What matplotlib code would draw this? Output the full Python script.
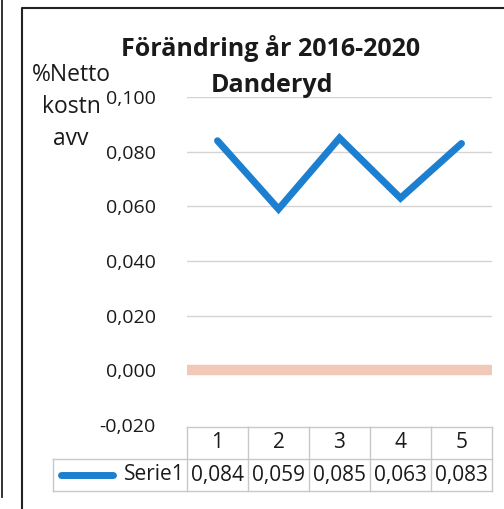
import matplotlib
matplotlib.use("Agg")
import matplotlib.pyplot as plt
from matplotlib.lines import Line2D
from matplotlib.ticker import FuncFormatter

categories = [1, 2, 3, 4, 5]
values = [0.084, 0.059, 0.085, 0.063, 0.083]
value_labels = ["0,084", "0,059", "0,085", "0,063", "0,083"]
series_name = "Serie1"
title1 = "Förändring år 2016-2020"
title2 = "Danderyd"
ylabel = "%Netto\nkostn\navv"

FONT = "Open Sans"
plt.rcParams["font.family"] = [FONT, "DejaVu Sans"]

W, H = 504, 509
fig = plt.figure(figsize=(W / 100, H / 100), dpi=100)

def px(x, y):
    return x / W, 1 - y / H

# axes area in pixels
L, R, T, B = 187, 492, 97, 425
ax = fig.add_axes([L / W, 1 - B / H, (R - L) / W, (B - T) / H])
ax.set_xlim(0.5, 5.5)
ax.set_ylim(-0.02, 0.1)
for s in ax.spines.values():
    s.set_visible(False)
ax.set_yticks([-0.02, 0, 0.02, 0.04, 0.06, 0.08, 0.1])
ax.yaxis.set_major_formatter(FuncFormatter(lambda v, p: f"{v:.3f}".replace(".", ",")))
ax.tick_params(axis="y", length=0, pad=22.5, labelsize=14, labelcolor="#1a1a1a")
ax.set_xticks([])
for yv in [0.02, 0.04, 0.06, 0.08, 0.1]:
    ax.axhline(yv, color="#d4d4d4", lw=1.0, zorder=1)
ax.axhline(0, color="#F2C8B8", lw=7.5, zorder=2)
ax.plot(categories, values, color="#1C7FCF", lw=5, solid_capstyle="round",
        solid_joinstyle="miter", zorder=3)

# data table below the axes
tr = ax.get_xaxis_transform()
def ya(ypx):
    return (B - ypx) / (B - T)
y0, y1, y2 = ya(427), ya(459), ya(491)
grid_c = "#c8c8c8"
legend_left = -1.7
FS_T = 15
for i, c in enumerate(categories):
    xl, xr = c - 0.5, c + 0.5
    ax.add_line(Line2D([xl, xr], [y0, y0], transform=tr, color=grid_c, lw=1, clip_on=False))
    ax.text(c, (y0 + y1) / 2, str(c), transform=tr, ha="center", va="center",
            fontsize=FS_T, color="#1a1a1a", clip_on=False)
    ax.text(c, (y1 + y2) / 2, value_labels[i], transform=tr, ha="center", va="center",
            fontsize=FS_T, color="#1a1a1a", clip_on=False)
for c in categories + [categories[-1] + 1]:
    xl = c - 0.5
    ax.add_line(Line2D([xl, xl], [y0, y2], transform=tr, color=grid_c, lw=1, clip_on=False))
ax.add_line(Line2D([legend_left, 5.5], [y1, y1], transform=tr, color=grid_c, lw=1, clip_on=False))
ax.add_line(Line2D([legend_left, 5.5], [y2, y2], transform=tr, color=grid_c, lw=1, clip_on=False))
ax.add_line(Line2D([legend_left, legend_left], [y1, y2], transform=tr, color=grid_c, lw=1, clip_on=False))
ax.add_line(Line2D([legend_left + 0.13, legend_left + 0.98], [(y1 + y2) / 2] * 2, transform=tr,
                   color="#1C7FCF", lw=5, solid_capstyle="round", clip_on=False))
ax.text(0.47, (y1 + y2) / 2, series_name, transform=tr, ha="right", va="center",
        fontsize=FS_T, color="#1a1a1a", clip_on=False)

# titles and y label
fig.text(*px(271, 48), title1, ha="center", va="center", fontsize=18, fontweight="bold", color="#1a1a1a")
fig.text(*px(272, 85), title2, ha="center", va="center", fontsize=18, fontweight="bold", color="#1a1a1a")
fig.text(*px(71, 107), ylabel, ha="center", va="center", fontsize=16.5, color="#1a1a1a",
         linespacing=1.45)

# frames
fig.add_artist(Line2D([2 / W, 2 / W], [1 - 0 / H, 1 - 497 / H], transform=fig.transFigure,
                      color="#222222", lw=1.3))
fig.add_artist(Line2D([22 / W, 22 / W, 504 / W], [0, 1 - 8 / H, 1 - 8 / H], transform=fig.transFigure,
                      color="#222222", lw=1.5))

fig.savefig("out.png", dpi=100)
